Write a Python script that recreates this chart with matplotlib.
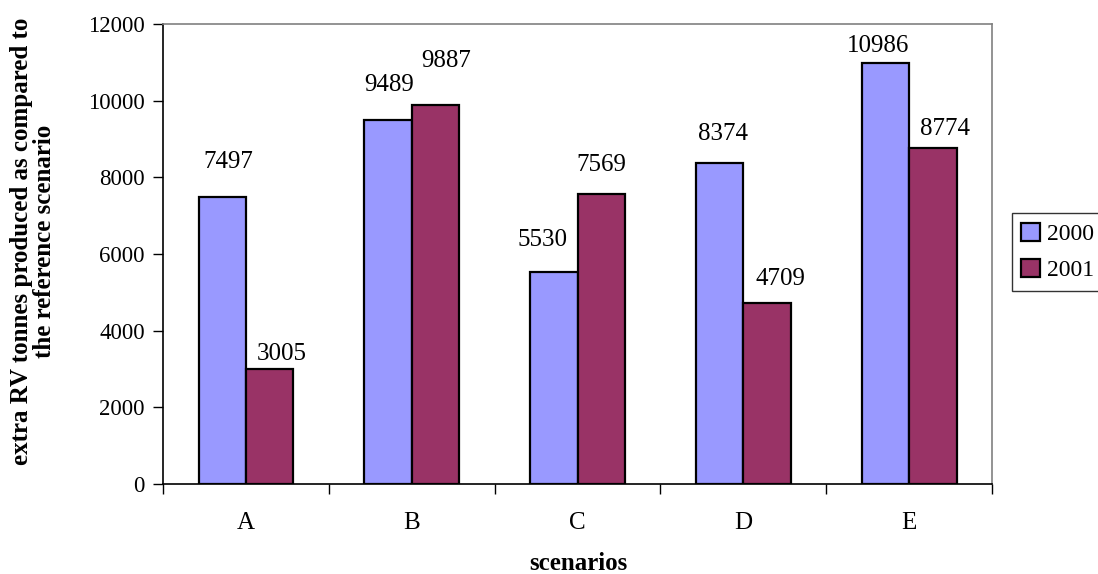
import matplotlib.pyplot as plt
import numpy as np

plt.rcParams["font.family"] = ["Liberation Serif", "DejaVu Serif"]

scenarios = ["A", "B", "C", "D", "E"]
years = ["2000", "2001"]
tonnes_2000 = [7497, 9489, 5530, 8374, 10986]
tonnes_2001 = [3005, 9887, 7569, 4709, 8774]

# label offsets from the top centre of each bar, pixels (dx, dy)
shift_2000 = [(6, 24), (1, 24), (-11, 21), (3, 18), (-7, 6)]
shift_2001 = [(12, 4), (11, 33), (0, 18), (13, 13), (12, 8)]

BLUE = "#9999FF"
PLUM = "#993366"

fig = plt.figure(figsize=(10.98, 5.74), dpi=100)
ax = fig.add_axes([0.1485, 0.157, 0.755, 0.801])

x = np.arange(len(scenarios)) + 0.5
w = 1 / 3.5
b1 = ax.bar(x - w / 2, tonnes_2000, w, color=BLUE, edgecolor="black",
            linewidth=1.6, label=years[0], zorder=3)
b2 = ax.bar(x + w / 2, tonnes_2001, w, color=PLUM, edgecolor="black",
            linewidth=1.6, label=years[1], zorder=3)

for bars, vals, shifts in ((b1, tonnes_2000, shift_2000), (b2, tonnes_2001, shift_2001)):
    for rect, v, s in zip(bars, vals, shifts):
        ax.annotate(str(v), (rect.get_x() + rect.get_width() / 2, v),
                    xytext=s, textcoords="offset pixels",
                    ha="center", va="bottom", fontsize=18)

ax.set_xlim(0, 5)
ax.set_ylim(0, 12000)
ax.set_yticks(range(0, 12001, 2000))
ax.set_xticks(np.arange(0, 6), labels=[""] * 6)
ax.set_xticks(x, labels=scenarios, minor=True)
ax.tick_params(axis="x", which="minor", length=0, pad=20, labelsize=18)
ax.tick_params(axis="x", which="major", length=7, direction="out", width=1)
ax.tick_params(axis="y", length=7, direction="out", width=1, labelsize=16.5, pad=6)

for side in ("top", "right"):
    ax.spines[side].set_color("#808080")
    ax.spines[side].set_linewidth(1.2)
for side in ("left", "bottom"):
    ax.spines[side].set_color("black")
    ax.spines[side].set_linewidth(1.2)

fig.text(578 / 1098, 1 - 564 / 574, "scenarios", fontsize=18, fontweight="bold",
         ha="center", va="center")
fig.text(33 / 1098, 1 - 241 / 574,
         "extra RV tonnes produced as compared to\nthe reference scenario",
         fontsize=18, fontweight="bold", rotation=90, ha="center", va="center",
         multialignment="center", linespacing=1.05)

leg = fig.legend(loc="center left", bbox_to_anchor=(1012 / 1098, 1 - 252 / 574),
                 fontsize=17, frameon=True, fancybox=False, edgecolor="black",
                 handlelength=0.8, handleheight=0.8, handletextpad=0.3,
                 borderpad=0.4, labelspacing=0.6, borderaxespad=0)
leg.get_frame().set_linewidth(1.0)

fig.savefig("out.png", dpi=100)
